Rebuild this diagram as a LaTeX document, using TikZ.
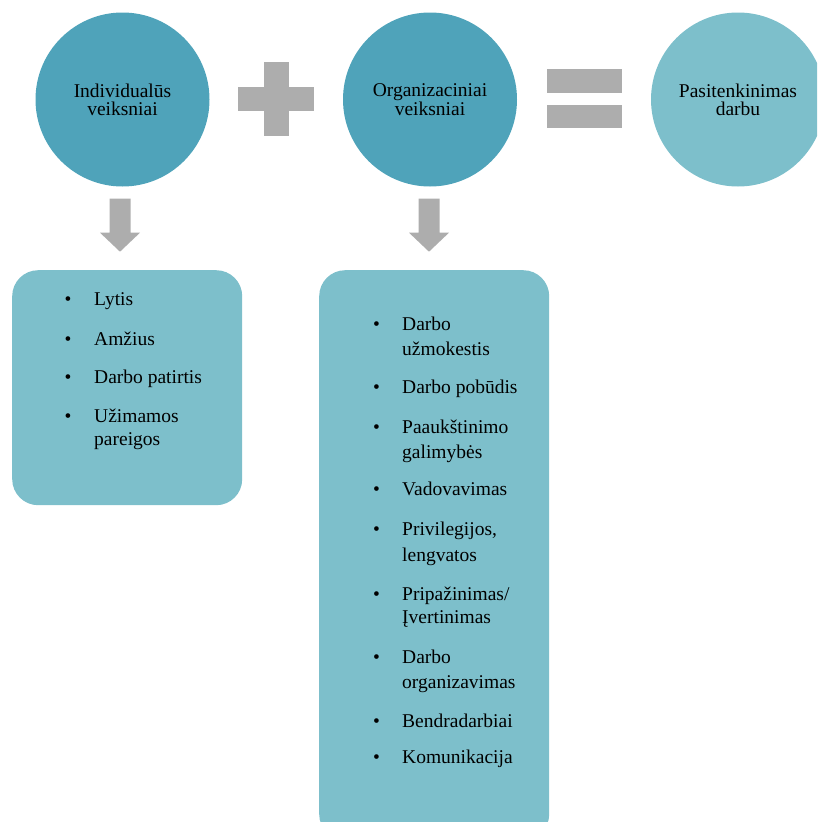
\documentclass[tikz,border=0pt]{standalone}
\usepackage{fontspec}
\setmainfont{Liberation Serif}
\usetikzlibrary{calc}
\definecolor{darkteal}{HTML}{4FA3BA}
\definecolor{lightteal}{HTML}{7DBFCB}
\definecolor{signgray}{HTML}{ADADAD}
\begin{document}
\begin{tikzpicture}[x=1pt,y=-1pt,
  circ/.style={circle, minimum size=174pt, inner sep=0pt, align=center,
    font=\fontsize{19.5}{18.3}\selectfont},
  listbox/.style={fill=lightteal, rounded corners=26pt, inner sep=0pt, anchor=north west},
  sign/.style={fill=signgray},
  bul/.style={anchor=base, inner sep=0pt, font=\fontsize{19.5}{23}\selectfont},
  itm/.style={anchor=base west, inner sep=0pt, font=\fontsize{19.5}{23}\selectfont}]
\clip (0,0) rectangle (817,822);
% circles
\node[circ, fill=darkteal] (c1) at (122.5,99.5) {Individualūs\\veiksniai};
\node[circ, fill=darkteal] (c2) at (430,99.5) {Organizaciniai\\veiksniai};
\node[circ, fill=lightteal] (c3) at (738,99.5) {Pasitenkinimas\\darbu};
% plus sign
\fill[sign] (238,87) rectangle (314,111);
\fill[sign] (264,62) rectangle (289,136);
% equals sign
\fill[sign] (547,69) rectangle (622,93);
\fill[sign] (547,105) rectangle (622,128);
% boxes
\node[listbox, minimum width=230pt, minimum height=235pt] (b1) at (12,270) {};
\node[listbox, minimum width=230pt, minimum height=570pt] (b2) at (319,270) {};
% block arrows
\coordinate (a1) at ($(c1.south)+(-2.5,12)$);
\coordinate (a2) at ($(c2.south)+(-1,12)$);
\foreach \a in {a1,a2}{
  \fill[sign] (\a) ++(-10.5,0) -- ++(21,0) -- ++(0,34) -- ++(9.5,0)
     -- ++(-20,19) -- ++(-20,-19) -- ++(9.5,0) -- cycle;
}
% list 1
\foreach \y/\t [count=\i] in {305/Lytis, 345/Amžius, 383/Darbo patirtis, 422/Užimamos}{
  \node[bul] (p\i) at (68,\y) {•};
  \node[itm] (l\i) at (94,\y) {\t};
}
\node[itm] (l5) at (94,445) {pareigos};
% list 2
\foreach \y/\t [count=\i] in {330/Darbo, 393/Darbo pobūdis, 433/Paaukštinimo, 495/Vadovavimas,
  535/{Privilegijos,}, 600/{Pripažinimas/}, 663/Darbo, 727/Bendradarbiai, 763/Komunikacija}{
  \node[bul] (q\i) at (376.5,\y) {•};
  \node[itm] (m\i) at (402,\y) {\t};
}
\node[itm] (n1) at (402,355) {užmokestis};
\node[itm] (n2) at (402,458) {galimybės};
\node[itm] (n3) at (402,561) {lengvatos};
\node[itm] (n4) at (402,623) {Įvertinimas};
\node[itm] (n5) at (402,688) {organizavimas};
\end{tikzpicture}
\end{document}
